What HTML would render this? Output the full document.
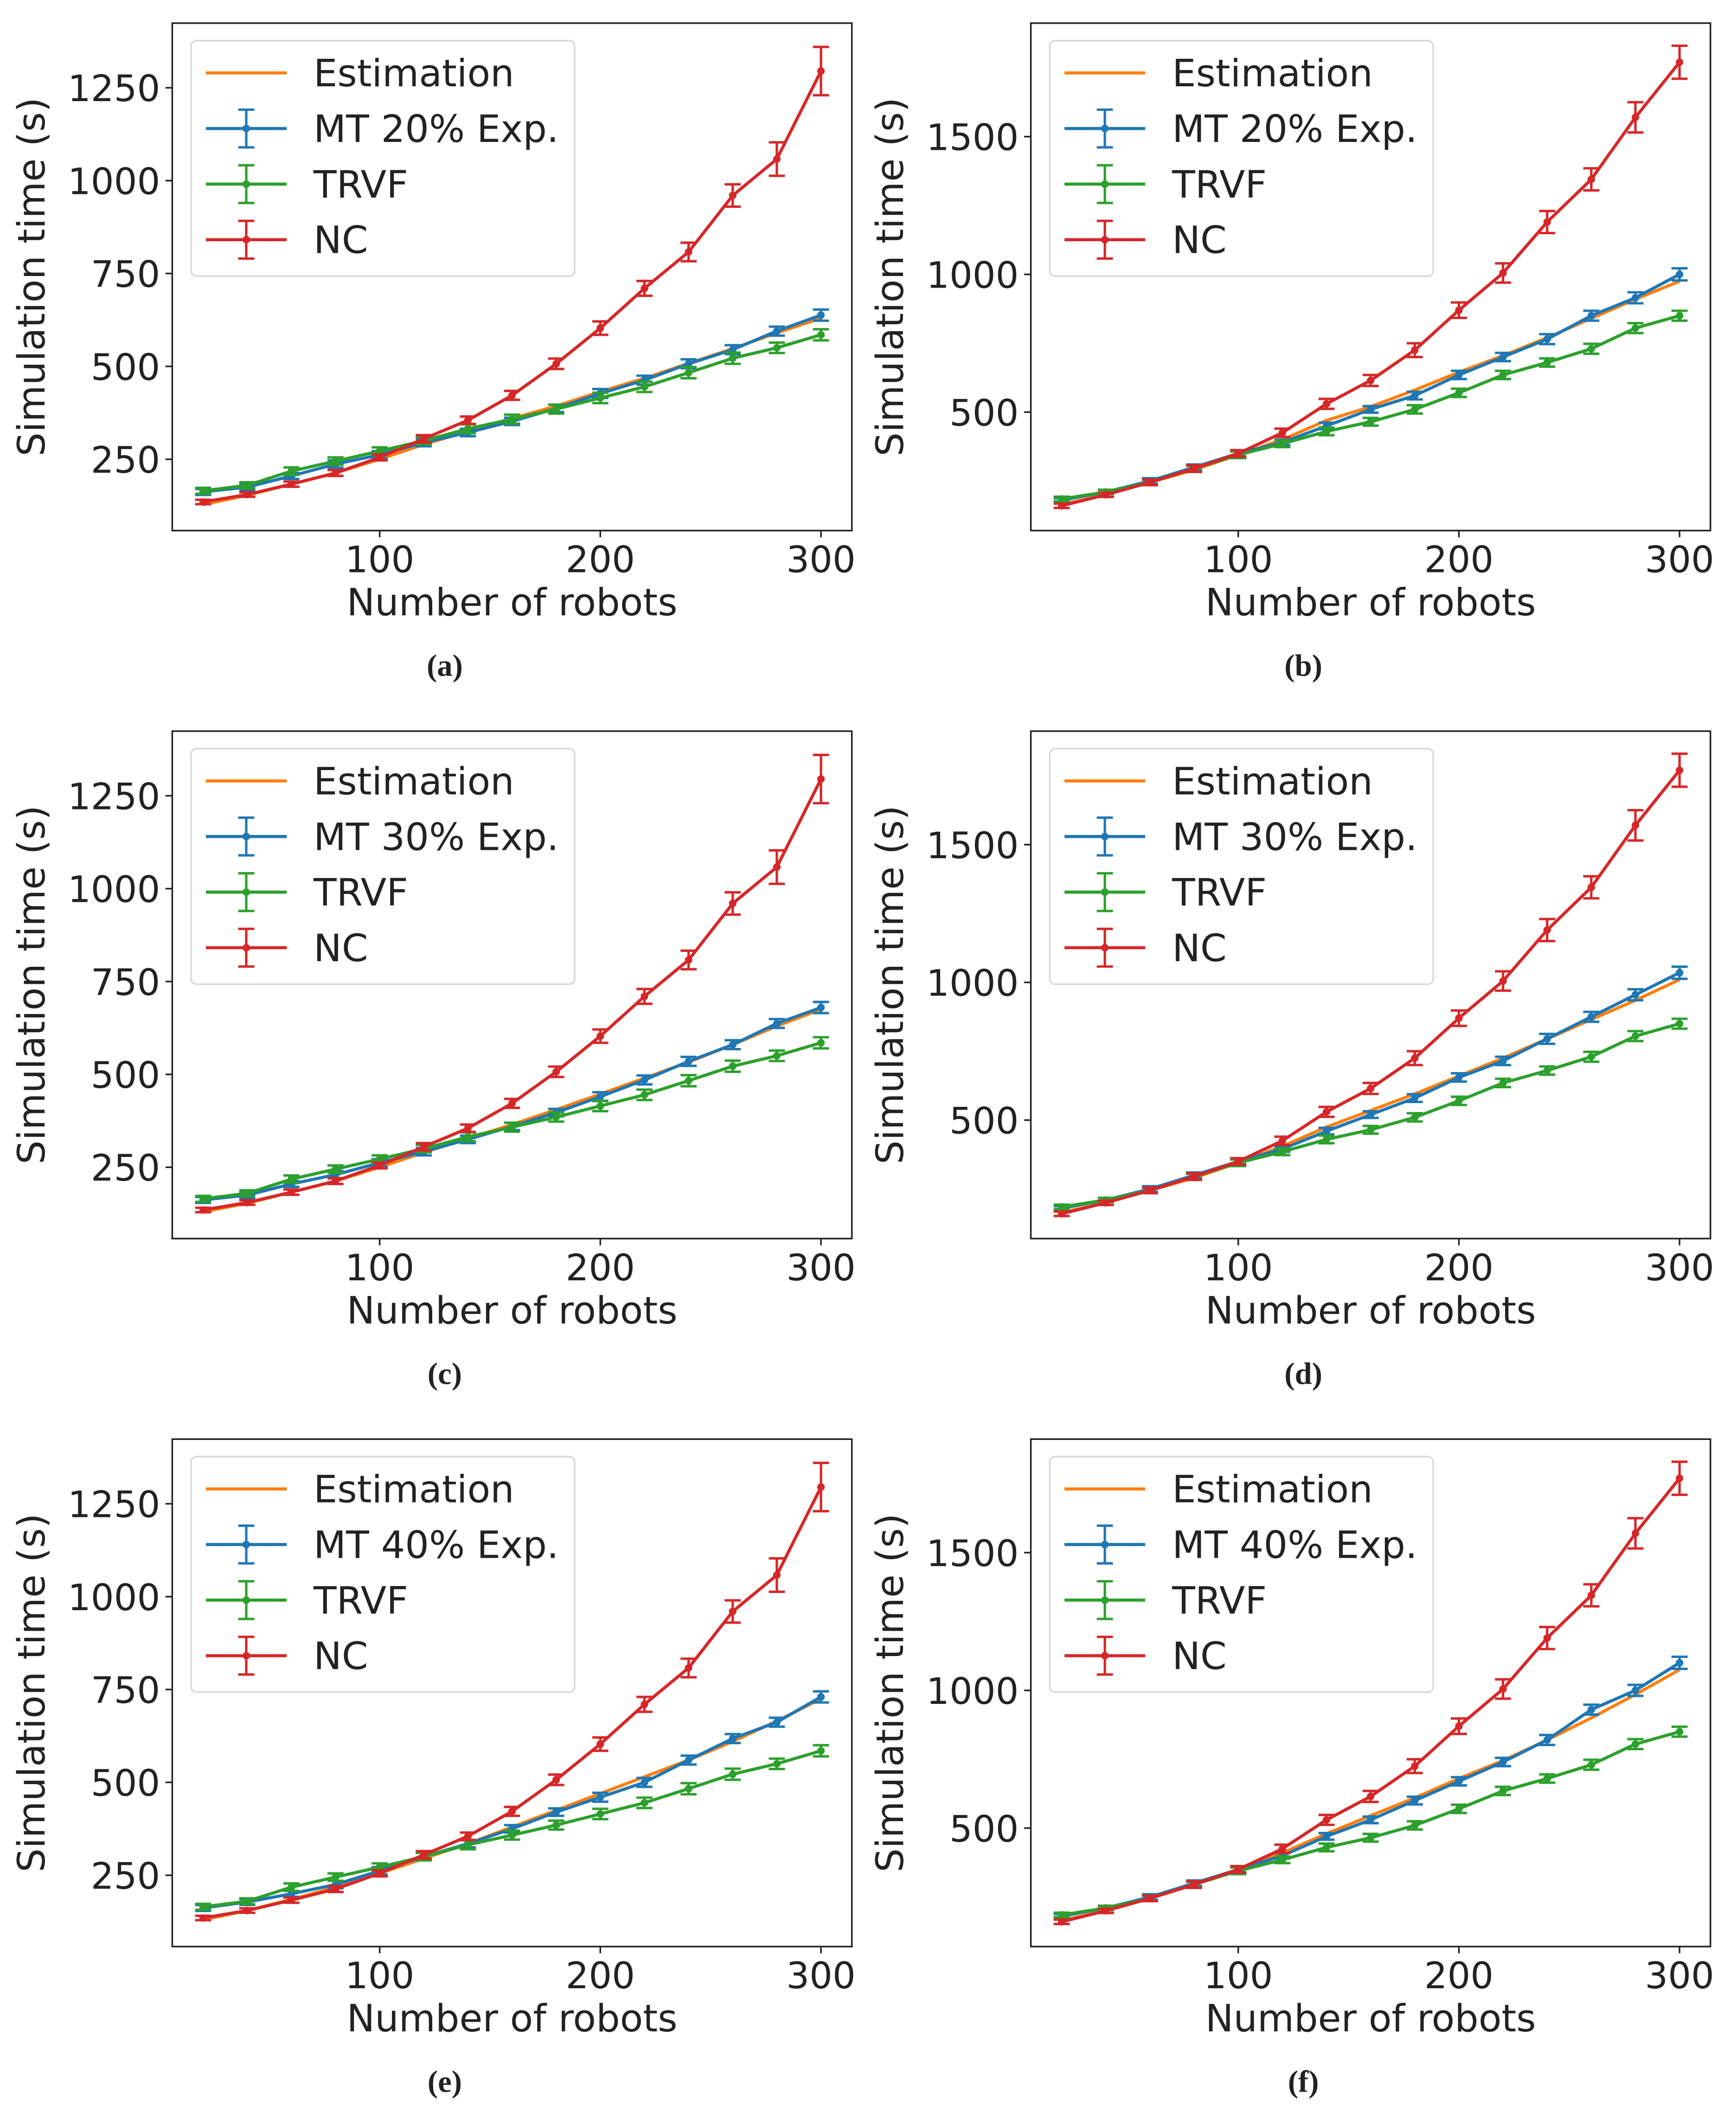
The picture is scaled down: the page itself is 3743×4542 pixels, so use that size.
<!DOCTYPE html>
<html><head><meta charset="utf-8">
<style>
html,body{margin:0;padding:0;background:#fff;}
svg{display:block;}
text{font-family:"DejaVu Sans","Liberation Sans",sans-serif;fill:#222;}
.cap{font-family:"Liberation Serif","DejaVu Serif",serif;font-weight:bold;}
</style></head>
<body>
<svg id="fig" width="3743" height="4542" viewBox="0 0 1290 1565" xmlns="http://www.w3.org/2000/svg"></svg>
<script>
const xVals=[20,40,60,80,100,120,140,160,180,200,220,240,260,280,300];
const ncS=[135,155,183,213,255,305,355,422,507,603,710,808,960,1058,1295];
const ncSErr=[6,6,7,8,8,10,10,12,14,18,20,25,30,45,65];
const trvfS=[165,180,218,245,272,300,332,358,385,415,445,483,522,550,585];
const trvfSErr=[8,8,10,10,10,10,12,12,12,14,14,15,15,14,15];
const ncL=[160,200,245,295,350,425,530,615,725,870,1005,1190,1345,1570,1770];
const ncLErr=[8,8,10,12,12,15,18,20,25,28,35,40,40,55,60];
const trvfL=[185,210,245,295,345,385,430,465,510,570,635,680,730,805,850];
const trvfLErr=[8,8,10,10,12,12,14,14,15,15,15,15,18,18,18];
const mtA=[162,175,205,237,262,295,322,352,387,427,463,507,545,595,638];
const estA=[128,153,183,213,250,290,325,360,393,432,468,508,548,590,630];
const mtB=[180,210,250,300,350,390,450,510,560,635,700,765,850,915,1000];
const estB=[165,200,245,290,345,400,470,520,580,645,705,770,840,910,975];
const mtC=[162,175,205,230,262,292,325,360,397,440,485,535,580,637,680];
const estC=[130,153,183,213,250,290,327,365,405,447,490,533,580,630,675];
const mtD=[180,210,250,300,350,395,460,520,580,655,715,795,875,955,1035];
const estD=[165,200,245,290,345,405,475,535,595,660,725,795,865,935,1010];
const mtE=[162,178,200,225,262,300,335,375,420,460,500,560,618,662,730];
const estE=[130,155,185,218,255,295,335,380,425,470,515,560,610,665,725];
const mtF=[180,210,250,300,350,400,470,530,600,670,740,820,930,1000,1100];
const estF=[165,200,245,295,350,410,480,545,610,680,745,820,900,985,1075];
const mtErrSmall=[8,8,8,10,10,10,10,10,10,12,12,12,12,12,15];
const mtErrLarge=[8,8,10,10,10,10,12,12,14,15,15,18,18,20,22];
const xTicks=[100,200,300];
const yTicksS=[250,500,750,1000,1250];
const yTicksL=[500,1000,1500];

const NS="http://www.w3.org/2000/svg";
const svg=document.getElementById('fig');
function mk(tag,attrs,parent){const e=document.createElementNS(NS,tag);for(const k in attrs)e.setAttribute(k,attrs[k]);(parent||svg).appendChild(e);return e;}
const C={est:'#ff7f0e',mt:'#1f77b4',trvf:'#2ca02c',nc:'#d62728'};

function panel(id,x0,y0,ymin,ymax,yTicks,mt,mtErr,est,nc,ncErr,trvf,trvfErr,pct,cap){
  const W=505,H=377;
  const g=mk('g',{});
  
  
  const xs=v=>x0+(v-6)/(314-6)*W;
  const ys=v=>y0+H-(v-ymin)/(ymax-ymin)*H;
  const fr=mk('rect',{x:x0,y:y0,width:W,height:H,fill:'none',stroke:'#222','stroke-width':1.2},g);
  
  
  xTicks.forEach(t=>{
    mk('line',{x1:xs(t),x2:xs(t),y1:y0+H,y2:y0+H+5,stroke:'#222','stroke-width':1.2},g);
    const tx=mk('text',{x:xs(t),y:y0+H+31,'font-size':27,'text-anchor':'middle'},g);
    tx.textContent=t;
    
    
  });
  yTicks.forEach(t=>{
    mk('line',{x1:x0-5,x2:x0,y1:ys(t),y2:ys(t),stroke:'#222','stroke-width':1.2},g);
    const tx=mk('text',{x:x0-9,y:ys(t)+10,'font-size':27,'text-anchor':'end'},g);
    tx.textContent=t;
    
    
  });
  const xl=mk('text',{x:x0+W/2,y:y0+H+63,'font-size':28,'text-anchor':'middle'},g);
  xl.textContent='Number of robots';
  
  
  const yl=mk('text',{x:0,y:0,'font-size':28,'text-anchor':'middle',transform:`translate(${x0-95},${y0+H/2}) rotate(-90)`},g);
  yl.textContent='Simulation time (s)';
  
  
  function series(vals,errs,col,name){
    const sg=mk('g',{},g);
    
    
    const pts=vals.map((v,i)=>xs(xVals[i]).toFixed(2)+','+ys(v).toFixed(2)).join(' ');
    mk('polyline',{points:pts,fill:'none',stroke:col,'stroke-width':2.3,'stroke-linejoin':'round'},sg);
    if(errs){
      vals.forEach((v,i)=>{
        const x=xs(xVals[i]),a=ys(v+errs[i]),b=ys(v-errs[i]);
        mk('line',{x1:x,x2:x,y1:a,y2:b,stroke:col,'stroke-width':1.8},sg);
        mk('line',{x1:x-6,x2:x+6,y1:a,y2:a,stroke:col,'stroke-width':1.8},sg);
        mk('line',{x1:x-6,x2:x+6,y1:b,y2:b,stroke:col,'stroke-width':1.8},sg);
        mk('circle',{cx:x,cy:ys(v),r:2.8,fill:col},sg);
      });
    }
  }
  series(est,null,C.est,'estimation');
  series(mt,mtErr,C.mt,'mt');
  series(trvf,trvfErr,C.trvf,'trvf');
  series(nc,ncErr,C.nc,'nc');
  const lg=mk('g',{},g);
  
  
  mk('rect',{x:x0+14,y:y0+13,width:285,height:175,rx:4,fill:'#fff','fill-opacity':0.8,stroke:'#d8d8d8','stroke-width':1.2},lg);
  const items=[['Estimation',C.est,false],['MT '+pct+'% Exp.',C.mt,true],['TRVF',C.trvf,true],['NC',C.nc,true]];
  items.forEach((it,k)=>{
    const cy=y0+37+k*41.3,lx=x0+25;
    mk('line',{x1:lx,x2:lx+60,y1:cy,y2:cy,stroke:it[1],'stroke-width':2.3},lg);
    if(it[2]){
      mk('line',{x1:lx+30,x2:lx+30,y1:cy-14,y2:cy+14,stroke:it[1],'stroke-width':1.8},lg);
      mk('line',{x1:lx+24,x2:lx+36,y1:cy-14,y2:cy-14,stroke:it[1],'stroke-width':1.8},lg);
      mk('line',{x1:lx+24,x2:lx+36,y1:cy+14,y2:cy+14,stroke:it[1],'stroke-width':1.8},lg);
      mk('circle',{cx:lx+30,cy:cy,r:2.8,fill:it[1]},lg);
    }
    const t=mk('text',{x:x0+105,y:cy+10,'font-size':28},lg);
    t.textContent=it[0];
    
    
  });
  const ct=mk('text',{x:x0+W/2-50,y:y0+H+108,'font-size':23,'text-anchor':'middle'},g);
  ct.setAttribute('class','cap');
  ct.textContent='('+cap+')';
  
  
}
const ySa=[58,1424], yLa=[70,1912];
panel('a',128,17,ySa[0],ySa[1],yTicksS,mtA,mtErrSmall,estA,ncS,ncSErr,trvfS,trvfSErr,20,'a');
panel('b',766,17,yLa[0],yLa[1],yTicksL,mtB,mtErrLarge,estB,ncL,ncLErr,trvfL,trvfLErr,20,'b');
panel('c',128,543,ySa[0],ySa[1],yTicksS,mtC,mtErrSmall,estC,ncS,ncSErr,trvfS,trvfSErr,30,'c');
panel('d',766,543,yLa[0],yLa[1],yTicksL,mtD,mtErrLarge,estD,ncL,ncLErr,trvfL,trvfLErr,30,'d');
panel('e',128,1069,ySa[0],ySa[1],yTicksS,mtE,mtErrSmall,estE,ncS,ncSErr,trvfS,trvfSErr,40,'e');
panel('f',766,1069,yLa[0],yLa[1],yTicksL,mtF,mtErrLarge,estF,ncL,ncLErr,trvfL,trvfLErr,40,'f');
</script>
</body></html>
